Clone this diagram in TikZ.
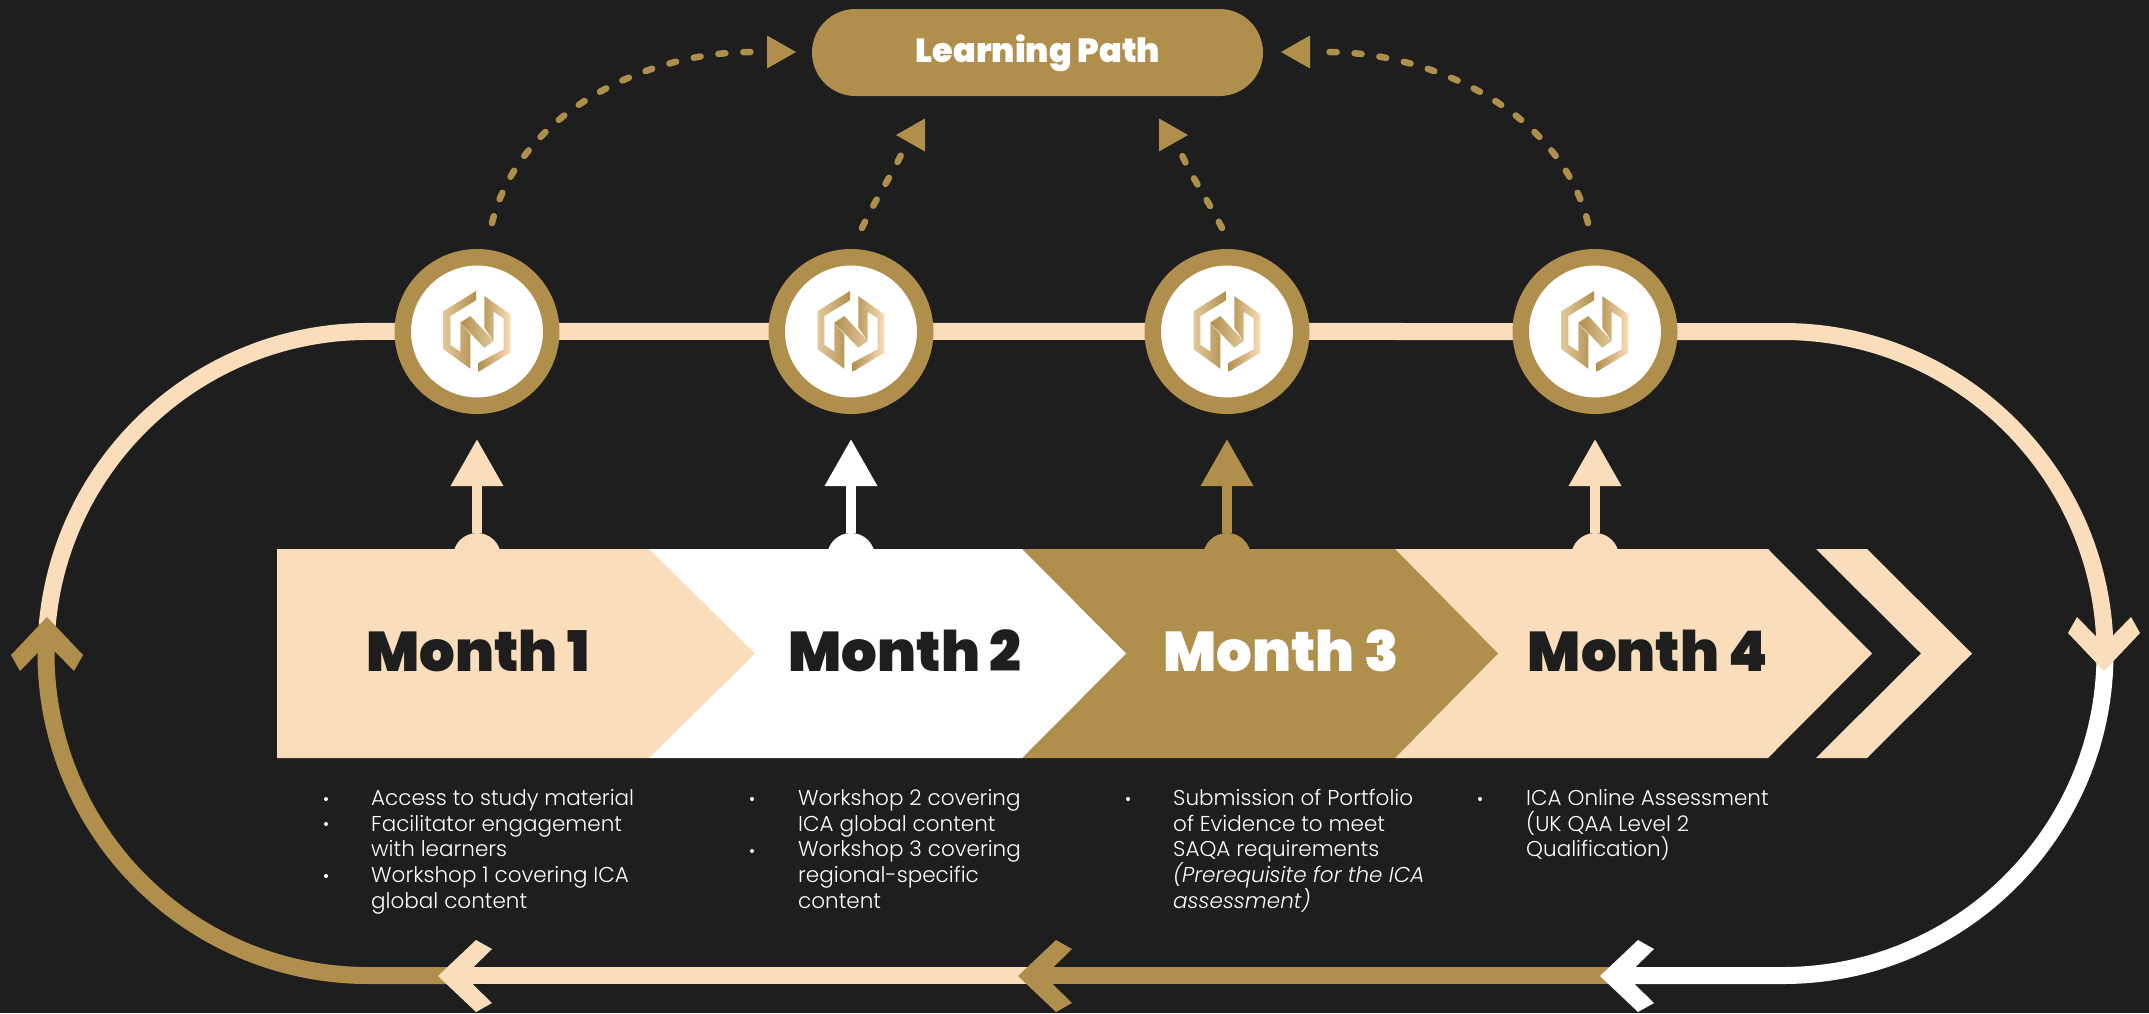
\documentclass[tikz,border=0pt]{standalone}
\usepackage{fontspec}
\usetikzlibrary{arrows.meta}
\setmainfont{Poppins Light}[ItalicFont={Poppins Light Italic}]
\newfontfamily\titlefont{Poppins Black}
\definecolor{icaBack}{HTML}{1E1E1E}
\definecolor{icaGold}{HTML}{B08F4D}
\definecolor{icaPeach}{HTML}{FADDBA}
\definecolor{icaPale}{HTML}{E2C79A}
\tikzset{
	trackline/.style={line width=17pt},
	dashlink/.style={icaGold, line width=6.5pt, line cap=round, dash pattern=on 7pt off 18pt},
	hubring/.style={circle, draw=icaGold, fill=white, line width=16.5pt, inner sep=0pt, minimum size=148.5pt},
	bumpdot/.style={circle, inner sep=0pt, minimum size=48pt},
	riser/.style={line width=10pt, -{Triangle[length=47pt,width=50pt]}},
	monthlabel/.style={font=\titlefont\fontsize{56}{56}\selectfont, anchor=base, inner sep=0pt},
	itemlist/.style={white, font=\fontsize{21.5}{25.7}\selectfont, align=left, anchor=north west, inner sep=0pt},
	bulletdot/.style={circle, fill=white, inner sep=0pt, minimum size=4pt},
	headmark/.pic={\fill (0,0) -- (-38,-36) -- (-54,-27) -- (-35,-8.5) -- (-35,8.5) -- (-54,27) -- (-38,36) -- cycle;},
	flagmark/.pic={\fill[icaGold] (0,0) -- (-29,-16.5) -- (-29,16.5) -- cycle;},
	logomark/.pic={
		\shade[left color=icaPale, right color=icaGold] (-1,-40.5) -- (-33.3,-20.5) -- (-33.3,17.8) -- (-6.7,37.2) -- (-6.7,3) -- (-16.7,-8.8) -- (-16.7,20.2) -- (-26.7,13.5) -- (-26.7,-15.5) -- (-1,-31.2) -- cycle;
		\shade[left color=icaGold, right color=icaPale] (-16.7,-8.8) -- (-6.7,-15.5) -- (16.7,9.5) -- (7.3,16.2) -- cycle;
		\shade[left color=icaGold, right color=icaPeach] (7.3,-35.5) -- (33.3,-17.2) -- (33.3,21.2) -- (1.7,40.2) -- (1.7,31.2) -- (26.7,17.8) -- (26.7,-13.2) -- (16.7,-19.5) -- (16.7,9.5) -- (7.3,-3.8) -- cycle;
	},
}
\begin{document}
\begin{tikzpicture}[x=1pt, y=-1pt]
	\useasboundingbox (0,0) rectangle (2149,1013);
	\fill[icaBack] (0,0) rectangle (2149,1013);

	% outer track
	\coordinate (trackstart) at (47.2,625.4);
	\coordinate (trackturn) at (1783,331.5);
	\coordinate (trackright) at (2105,653.5);
	\coordinate (tracksouth) at (1610,975.5);
	\coordinate (trackmid) at (1030,975.5);
	\coordinate (trackwest) at (450,975.5);
	\draw[trackline, icaPeach] (trackstart) arc[start angle=175, end angle=90, radius=322pt] -- (trackturn) arc[start angle=90, end angle=0, radius=322pt];
	\draw[trackline, white] (trackright) arc[start angle=0, end angle=-90, radius=322pt] -- (tracksouth);
	\draw[trackline, icaGold] (tracksouth) -- (trackmid);
	\draw[trackline, icaPeach] (trackmid) -- (trackwest);
	\draw[trackline, icaGold] (trackwest) -- (368,975.5) arc[start angle=270, end angle=178, radius=322pt];
	\pic[icaGold, rotate=90] at (47,617) {headmark};
	\pic[icaPeach, rotate=-90] at (2104,671) {headmark};
	\pic[white, rotate=180] at (1600,976) {headmark};
	\pic[icaGold, rotate=180] at (1018,976) {headmark};
	\pic[icaPeach, rotate=180] at (438,976) {headmark};

	% hubs on the track
	\node[hubring] (hub1) at (477,331.5) {};
	\node[hubring] (hub2) at (851,331.5) {};
	\node[hubring] (hub3) at (1227,331.5) {};
	\node[hubring] (hub4) at (1595,331.5) {};
	\pic at (hub1) {logomark};
	\pic at (hub2) {logomark};
	\pic at (hub3) {logomark};
	\pic at (hub4) {logomark};

	% learning path
	\node[fill=icaGold, rounded corners=43.5pt, minimum width=451pt, minimum height=87pt, inner sep=0pt] (path) at (1037.5,52.5) {};
	\node[white, font=\titlefont\fontsize{33.5}{33.5}\selectfont, inner sep=0pt, anchor=base] (pathlabel) at (1038,62) {Learning Path};

	\coordinate (linkA) at (751,52);
	\coordinate (linkB) at (902,153);
	\coordinate (linkC) at (1181,153);
	\coordinate (linkD) at (1328,52);
	\draw[dashlink] (492,223) .. controls (520,110) and (650,52) .. (linkA);
	\draw[dashlink] (862,228) .. controls (875,200) and (890,178) .. (linkB);
	\draw[dashlink] (1222,228) .. controls (1208,200) and (1192,178) .. (linkC);
	\draw[dashlink] (1588,223) .. controls (1560,110) and (1430,52) .. (linkD);
	\pic at (796,52) {flagmark};
	\pic[rotate=180] at (896,135) {flagmark};
	\pic at (1188,135) {flagmark};
	\pic[rotate=180] at (1281,52) {flagmark};

	% risers
	\node[bumpdot, fill=icaPeach] (base1) at (477,557) {};
	\node[bumpdot, fill=white] (base2) at (851,557) {};
	\node[bumpdot, fill=icaGold] (base3) at (1227,557) {};
	\node[bumpdot, fill=icaPeach] (base4) at (1595,557) {};
	\coordinate (peak1) at (477,439);
	\coordinate (peak2) at (851,439);
	\coordinate (peak3) at (1227,439);
	\coordinate (peak4) at (1595,439);
	\draw[riser, icaPeach] (base1) -- (peak1);
	\draw[riser, white] (base2) -- (peak2);
	\draw[riser, icaGold] (base3) -- (peak3);
	\draw[riser, icaPeach] (base4) -- (peak4);

	% chevrons
	\fill[icaPeach] (1816,549) -- (1867,549) -- (1972,653.5) -- (1867,758) -- (1816,758) -- (1921,653.5) -- cycle;
	\fill[icaPeach] (1395,549) -- (1768,549) -- (1872,653.5) -- (1768,758) -- (1395,758) -- cycle;
	\fill[icaGold] (1022,549) -- (1395,549) -- (1498,653.5) -- (1395,758) -- (1022,758) -- cycle;
	\fill[white] (649,549) -- (1022,549) -- (1126,653.5) -- (1022,758) -- (649,758) -- cycle;
	\fill[icaPeach] (277,549) -- (649,549) -- (755,653.5) -- (649,758) -- (277,758) -- cycle;
	\node[monthlabel, icaBack] (month1) at (478,671) {Month 1};
	\node[monthlabel, icaBack] (month2) at (905,671) {Month 2};
	\node[monthlabel, white] (month3) at (1281,671) {Month 3};
	\node[monthlabel, icaBack] (month4) at (1648,671) {Month 4};

	% lists
	\node[bulletdot] (dot1a) at (326,799) {};
	\node[bulletdot] (dot1b) at (326,824) {};
	\node[bulletdot] (dot1c) at (326,876) {};
	\node[bulletdot] (dot2a) at (752,799) {};
	\node[bulletdot] (dot2b) at (752,851) {};
	\node[bulletdot] (dot3a) at (1128,799) {};
	\node[bulletdot] (dot4a) at (1480,799) {};
	\node[itemlist] (list1) at (371,789) {Access to study material\\Facilitator engagement\\with learners\\Workshop 1 covering ICA\\global content};
	\node[itemlist] (list2) at (798,789) {Workshop 2 covering\\ICA global content\\Workshop 3 covering\\regional-specific\\content};
	\node[itemlist] (list3) at (1173,789) {Submission of Portfolio\\of Evidence to meet\\SAQA requirements\\\textit{(Prerequisite for the ICA}\\\textit{assessment)}};
	\node[itemlist] (list4) at (1526,789) {ICA Online Assessment\\(UK QAA Level 2\\Qualification)};
\end{tikzpicture}
\end{document}
